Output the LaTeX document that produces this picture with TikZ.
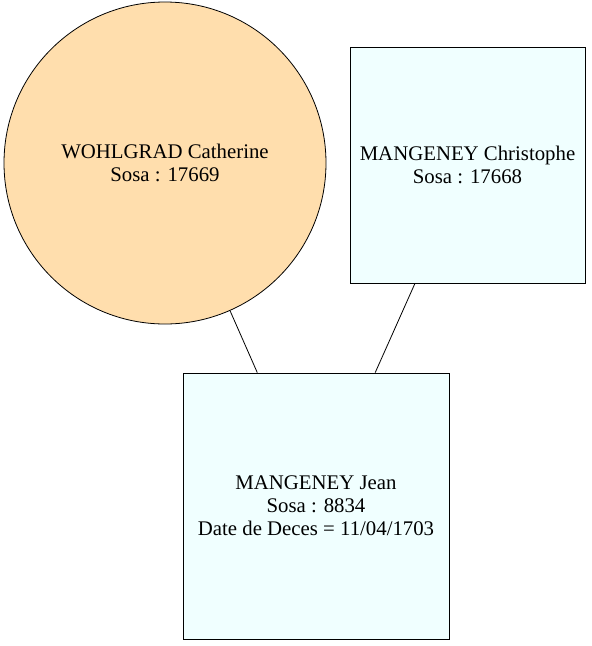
\documentclass[tikz,border=0pt]{standalone}
\usepackage{fontspec}
\setmainfont{Liberation Serif}
\definecolor{wohlfill}{HTML}{FFDEAD}
\definecolor{mangfill}{HTML}{F0FFFF}
\tikzset{
  person/.style={draw=black, line width=0.8pt, align=center, inner sep=0pt,
    font=\fontsize{20.8}{23}\selectfont},
  female/.style={person, circle, fill=wohlfill, minimum size=322pt},
  male/.style={person, rectangle, fill=mangfill},
}
\begin{document}
\begin{tikzpicture}[x=1pt,y=-1pt]
\useasboundingbox (0,0) rectangle (592,646);

%% Parents
\node[female] (wohlgrad) at (165,163) {WOHLGRAD Catherine\\Sosa : 17669};
\node[male, minimum width=235pt, minimum height=236pt] (christophe) at (467.5,165)
  {MANGENEY Christophe\\Sosa : 17668};

%% Child
\node[male, minimum width=266pt, minimum height=266pt] (jean) at (316,506)
  {MANGENEY Jean\\Sosa : 8834\\Date de Deces = 11/04/1703};

% links
\draw[line width=0.8pt] (wohlgrad) -- (jean);
\draw[line width=0.8pt] (christophe) -- (jean);

\end{tikzpicture}
\end{document}
